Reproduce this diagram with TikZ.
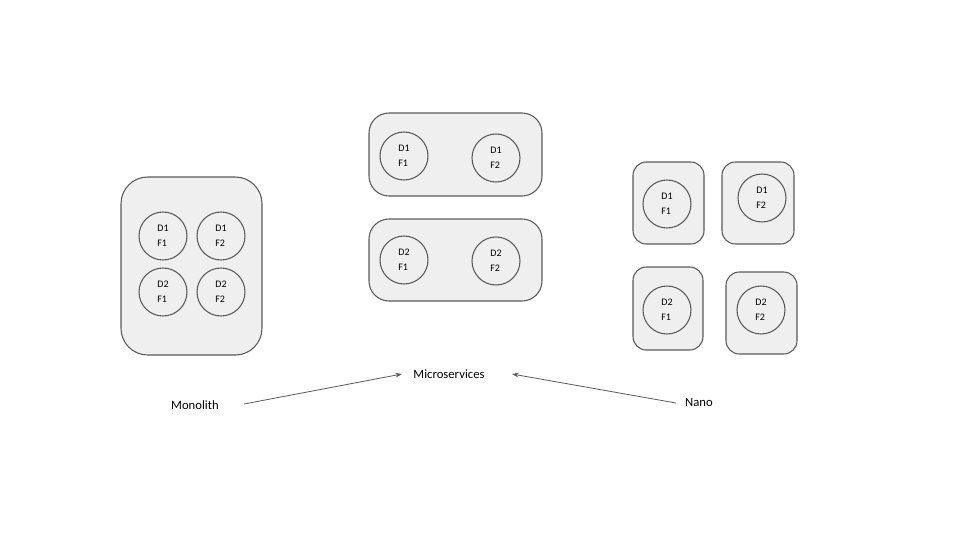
\documentclass[tikz,border=0pt]{standalone}
\usepackage{fontspec}
\setmainfont{Carlito}
\usetikzlibrary{arrows.meta}
\definecolor{edge}{HTML}{595959}
\definecolor{boxfill}{HTML}{EFEFEF}
\begin{document}
\begin{tikzpicture}[x=0.75pt,y=-0.75pt,
  svc/.style={draw=edge,fill=boxfill,line width=0.8pt,rounded corners=#1},
  svc/.default=15,
  dom/.style={draw=edge,line width=0.8pt,circle,minimum size=36pt,inner sep=0pt,align=left,font=\fontsize{7.5}{11}\selectfont},
  lbl/.style={font=\fontsize{9.5}{11}\selectfont,inner sep=1pt},
  conn/.style={draw=edge,line width=0.6pt,-{Stealth[length=5pt,width=3.5pt]}}]
\useasboundingbox (0,0) rectangle (960,540);
% Monolith
\draw[svc=20] (121,177) rectangle (262,355);
\node[dom] (m11) at (163,236) {D1\\F1};
\node[dom] (m12) at (221,236) {D1\\F2};
\node[dom] (m21) at (163,292) {D2\\F1};
\node[dom] (m22) at (221,292) {D2\\F2};
% Microservices
\draw[svc] (369,113) rectangle (542,196);
\node[dom] (u11) at (404,156) {D1\\F1};
\node[dom] (u12) at (496,158) {D1\\F2};
\draw[svc] (369,219) rectangle (542,301);
\node[dom] (u21) at (404,260) {D2\\F1};
\node[dom] (u22) at (496,261) {D2\\F2};
% Nano
\draw[svc=10] (633,162) rectangle (704,244);
\node[dom] (n11) at (667,204) {D1\\F1};
\draw[svc=10] (722,162) rectangle (794,244);
\node[dom] (n12) at (762,198) {D1\\F2};
\draw[svc=10] (633,267) rectangle (703,350);
\node[dom] (n21) at (667,310) {D2\\F1};
\draw[svc=10] (726,272) rectangle (797,354);
\node[dom] (n22) at (761,310) {D2\\F2};
% Labels
\node[lbl] (mono) at (195,405) {Monolith};
\node[lbl] (micro) at (449,374) {Microservices};
\node[lbl] (nano) at (699,402) {Nano};
\coordinate (a1s) at (244,404);
\coordinate (a1e) at (402,374);
\coordinate (a2s) at (676,403);
\coordinate (a2e) at (512,374);
\draw[conn] (a1s) -- (a1e);
\draw[conn] (a2s) -- (a2e);
\end{tikzpicture}
\end{document}
